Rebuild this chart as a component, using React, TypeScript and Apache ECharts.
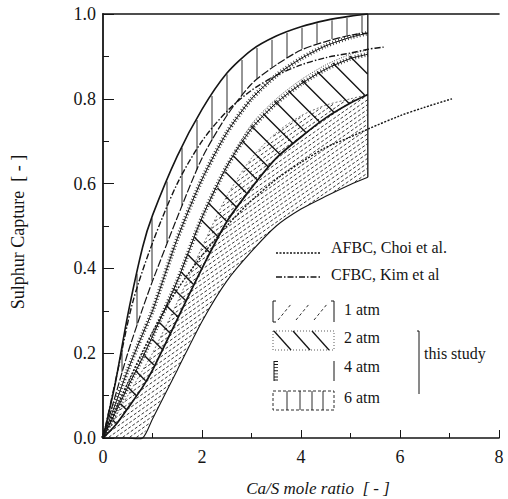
import React, { useEffect, useRef } from "react";
import * as echarts from "echarts";

// ---- data ----
const bandX = [0, 0.25, 0.5, 0.8, 1, 1.5, 2, 2.5, 3, 3.5, 4, 4.5, 5, 5.35];
const atm6Upper = [0, 0.13, 0.29, 0.45, 0.525, 0.665, 0.775, 0.86, 0.915, 0.948, 0.97, 0.985, 0.995, 1.0];
const atm6Lower = [0, 0.1, 0.2, 0.305, 0.37, 0.52, 0.66, 0.76, 0.835, 0.88, 0.915, 0.935, 0.95, 0.955];
const atm4Upper = [0, 0.08, 0.16, 0.245, 0.3, 0.47, 0.61, 0.72, 0.8, 0.855, 0.895, 0.925, 0.945, 0.955];
const atm4Lower = [0, 0.06, 0.12, 0.19, 0.24, 0.37, 0.52, 0.64, 0.73, 0.79, 0.835, 0.87, 0.895, 0.905];
const atm2Upper = [0, 0.06, 0.12, 0.19, 0.24, 0.37, 0.52, 0.64, 0.74, 0.8, 0.845, 0.88, 0.905, 0.915];
const atm2Lower = [0, 0.03, 0.07, 0.12, 0.16, 0.28, 0.4, 0.51, 0.59, 0.66, 0.71, 0.755, 0.79, 0.81];
const atm1Upper = [0, 0.05, 0.1, 0.16, 0.2, 0.32, 0.45, 0.57, 0.66, 0.72, 0.76, 0.785, 0.8, 0.81];
const atm1Lower = [0, 0, 0, 0, 0.045, 0.16, 0.275, 0.37, 0.44, 0.5, 0.54, 0.57, 0.598, 0.615];

const afbcX = [0, 0.5, 1, 1.5, 2, 2.5, 3, 3.5, 4, 4.5, 5, 5.36, 6, 6.5, 7.05];
const afbcY = [0, 0.13, 0.25, 0.35, 0.43, 0.5, 0.56, 0.61, 0.65, 0.685, 0.71, 0.729, 0.76, 0.78, 0.8];
const cfbcX = [0, 0.3, 0.6, 1, 1.5, 2, 2.5, 3, 3.5, 4, 4.5, 5, 5.36, 5.67];
const cfbcY = [0, 0.16, 0.32, 0.46, 0.6, 0.7, 0.77, 0.82, 0.855, 0.88, 0.897, 0.908, 0.917, 0.922];

const xTickStep = 2;
const yTickStep = 0.2;
const legendLabels = ["AFBC, Choi et al.", "CFBC, Kim et al", "1 atm", "2 atm", "4 atm", "6 atm"];
const FONT = "'Liberation Serif', 'DejaVu Serif', serif";
const INK = "#151515";
const SMOOTH = 0.25;

type P = number[];

function interpY(pts: P[], x: number): number {
  if (x <= pts[0][0]) return pts[0][1];
  for (let i = 1; i < pts.length; i++) {
    if (x <= pts[i][0]) {
      const t = (x - pts[i - 1][0]) / (pts[i][0] - pts[i - 1][0] || 1);
      return pts[i - 1][1] + t * (pts[i][1] - pts[i - 1][1]);
    }
  }
  return pts[pts.length - 1][1];
}

function hatchPath(up: P[], lo: P[], angleDeg: number, spacing: number, offset: number): string {
  const xMin = up[0][0];
  const xMax = up[up.length - 1][0];
  const yMin = Math.min(...up.map((p) => p[1]));
  const yMax = Math.max(...lo.map((p) => p[1]));
  const a = (angleDeg * Math.PI) / 180;
  const dx = Math.cos(a), dy = -Math.sin(a);
  const nx = -dy, ny = dx;
  const corners = [[xMin, yMin], [xMax, yMin], [xMin, yMax], [xMax, yMax]];
  const cs = corners.map((c) => c[0] * nx + c[1] * ny);
  const ts = corners.map((c) => c[0] * dx + c[1] * dy);
  const cmin = Math.min(...cs), cmax = Math.max(...cs);
  const tmin = Math.min(...ts), tmax = Math.max(...ts);
  let d = "";
  for (let c = cmin + offset; c <= cmax; c += spacing) {
    let run = false;
    let sx = 0, sy = 0, lx = 0, ly = 0;
    for (let t = tmin; t <= tmax + 1; t += 0.75) {
      const x = c * nx + t * dx;
      const y = c * ny + t * dy;
      const ins = x >= xMin && x <= xMax && y >= interpY(up, x) + 0.6 && y <= interpY(lo, x) - 0.6;
      if (ins) {
        if (!run) { run = true; sx = x; sy = y; }
        lx = x; ly = y;
      } else if (run) {
        run = false;
        if (Math.hypot(lx - sx, ly - sy) > 1.5) d += `M${sx.toFixed(1)} ${sy.toFixed(1)}L${lx.toFixed(1)} ${ly.toFixed(1)}`;
      }
    }
    if (run && Math.hypot(lx - sx, ly - sy) > 1.5) d += `M${sx.toFixed(1)} ${sy.toFixed(1)}L${lx.toFixed(1)} ${ly.toFixed(1)}`;
  }
  return d;
}

interface BandCfg {
  name: string;
  upper: number[];
  lower: number[];
  hatch?: { angle: number; spacing: number; width: number; dash?: number[]; offset?: number };
  upperStyle: any;
  lowerStyle: any;
  railroad?: boolean;
  z: number;
}

function bandSeries(cfg: BandCfg) {
  return {
    type: "custom",
    name: cfg.name,
    silent: true,
    z: cfg.z,
    data: [[0, 0]],
    renderItem: (_params: any, api: any) => {
      const up: P[] = bandX.map((x, i) => api.coord([x, cfg.upper[i]]));
      const lo: P[] = bandX.map((x, i) => api.coord([x, cfg.lower[i]]));
      const children: any[] = [];
      if (cfg.hatch) {
        const d = hatchPath(up, lo, cfg.hatch.angle, cfg.hatch.spacing, cfg.hatch.offset || 0);
        if (d) {
          children.push({
            type: "path",
            shape: { pathData: d },
            style: { fill: null, stroke: INK, lineWidth: cfg.hatch.width, lineDash: cfg.hatch.dash || null },
          });
        }
      }
      if (cfg.railroad) {
        for (const pts of [up, lo]) {
          children.push({
            type: "polyline",
            shape: { points: pts, smooth: SMOOTH },
            style: { fill: null, stroke: INK, lineWidth: 4.5, lineDash: [0.9, 2.2], opacity: 0.85 },
          });
        }
      }
      children.push({ type: "polyline", shape: { points: up, smooth: SMOOTH }, style: { fill: null, stroke: INK, ...cfg.upperStyle } });
      children.push({ type: "polyline", shape: { points: lo, smooth: SMOOTH }, style: { fill: null, stroke: INK, ...cfg.lowerStyle } });
      return { type: "group", children };
    },
  };
}

function edgeSeries() {
  const n = bandX.length - 1;
  return {
    type: "custom",
    silent: true,
    z: 10,
    data: [[0, 0]],
    renderItem: (_p: any, api: any) => {
      const a = api.coord([bandX[n], atm1Lower[n]]);
      const b = api.coord([bandX[n], atm6Upper[n]]);
      return {
        type: "line",
        shape: { x1: a[0], y1: a[1], x2: b[0], y2: b[1] },
        style: { stroke: INK, lineWidth: 1.3 },
      };
    },
  };
}

function legendGraphics(): any[] {
  const g: any[] = [];
  const ls = (x1: number, y1: number, x2: number, y2: number, style: any) =>
    g.push({ type: "line", shape: { x1, y1, x2, y2 }, style: { stroke: INK, lineWidth: 1, ...style }, silent: true });
  const txt = (x: number, y: number, text: string, extra: any = {}) =>
    g.push({
      type: "text",
      x,
      y,
      silent: true,
      style: { text, fill: INK, font: `16px ${FONT}`, textVerticalAlign: "middle", ...extra },
    });

  // AFBC
  ls(276, 253, 320, 253, { lineDash: [2, 1.5], lineWidth: 1.4 });
  txt(331, 247, legendLabels[0]);
  // CFBC
  ls(276, 277, 320, 277, { lineDash: [6, 2, 1.5, 2], lineWidth: 1.4 });
  txt(331, 274, legendLabels[1]);

  // 1 atm box
  ls(273, 301, 273, 322, { lineWidth: 1 });
  ls(273, 301, 276, 301, {});
  ls(273, 322, 276, 322, {});
  ls(334, 301, 334, 322, { lineWidth: 1 });
  ls(331, 301, 334, 301, {});
  for (const x0 of [278, 296, 314]) ls(x0, 320, x0 + 14, 303, { lineDash: [3, 2.5], lineWidth: 0.9 });
  txt(344, 309, legendLabels[2]);

  // 2 atm box
  g.push({ type: "rect", shape: { x: 273, y: 331, width: 61, height: 19 }, style: { fill: null, stroke: INK, lineWidth: 0.7, lineDash: [1, 2] }, silent: true });
  for (const x0 of [274, 293, 312]) ls(x0, 331, x0 + 17, 350, { lineWidth: 1.3 });
  txt(344, 337, legendLabels[3]);

  // 4 atm box
  ls(274, 361, 274, 381, { lineWidth: 1 });
  ls(276, 361, 276, 381, { lineWidth: 4, lineDash: [0.9, 2.2] });
  ls(334, 361, 334, 381, { lineWidth: 1 });
  txt(344, 366, legendLabels[4]);

  // 6 atm box
  g.push({ type: "rect", shape: { x: 273, y: 391, width: 61, height: 19 }, style: { fill: null, stroke: INK, lineWidth: 0.9, lineDash: [3, 2] }, silent: true });
  for (const x0 of [287, 300, 312, 323]) ls(x0, 391, x0, 410, { lineWidth: 0.9 });
  txt(344, 397, legendLabels[5]);

  // bracket & "this study"
  ls(419, 331, 419, 394, { lineWidth: 1 });
  ls(417, 331, 419, 331, {});
  txt(424, 353, "this study");

  // axis titles
  g.push({
    type: "text",
    x: 318,
    y: 488,
    silent: true,
    style: { text: "Ca/S mole ratio  [ - ]", fill: INK, font: `italic 17px ${FONT}`, textAlign: "center", textVerticalAlign: "middle" },
  });
  g.push({
    type: "text",
    x: 18,
    y: 232,
    rotation: Math.PI / 2,
    silent: true,
    style: { text: "Sulphur Capture  [ - ]", fill: INK, font: `18px ${FONT}`, textAlign: "center", textVerticalAlign: "middle" },
  });
  return g;
}

export default function App() {
  const ref = useRef<HTMLDivElement>(null);
  useEffect(() => {
    if (!ref.current) return;
    const chart = echarts.init(ref.current, null, { renderer: "svg" });
    const axisLabelStyle = { color: INK, fontFamily: "Liberation Serif", fontSize: 18 };
    const option: any = {
      animation: false,
      backgroundColor: "#fff",
      grid: { left: 103, top: 14, width: 396, height: 424, containLabel: false },
      xAxis: [
        {
          type: "value",
          min: 0,
          max: 8,
          interval: xTickStep,
          axisLine: { show: true, lineStyle: { color: INK, width: 1.6 } },
          axisTick: { show: true, inside: true, length: 8, lineStyle: { color: INK } },
          minorTick: { show: true, splitNumber: 2, length: 5, lineStyle: { color: INK } },
          splitLine: { show: false },
          axisLabel: { ...axisLabelStyle, margin: 10 },
        },
        {
          type: "value",
          position: "top",
          min: 0,
          max: 8,
          axisLine: { show: true, onZero: false, lineStyle: { color: INK, width: 1.6 } },
          axisTick: { show: false },
          axisLabel: { show: false },
          splitLine: { show: false },
        },
      ],
      yAxis: {
        type: "value",
        min: 0,
        max: 1,
        interval: yTickStep,
        axisLine: { show: true, lineStyle: { color: INK, width: 1.8 } },
        axisTick: { show: true, inside: true, length: 11, lineStyle: { color: INK } },
        minorTick: { show: true, splitNumber: 2, length: 6, lineStyle: { color: INK } },
        splitLine: { show: false },
        axisLabel: { ...axisLabelStyle, margin: 7, formatter: (v: number) => v.toFixed(1) },
      },
      series: [
        bandSeries({
          name: "1 atm",
          upper: atm1Upper,
          lower: atm1Lower,
          hatch: { angle: 35, spacing: 4, width: 0.85, dash: [3, 2] },
          upperStyle: { lineWidth: 0.6, lineDash: [2, 2] },
          lowerStyle: { lineWidth: 1.1 },
          z: 2,
        }),
        bandSeries({
          name: "2 atm",
          upper: atm2Upper,
          lower: atm2Lower,
          hatch: { angle: -45, spacing: 17, width: 1.4 },
          upperStyle: { lineWidth: 0.8, lineDash: [1, 1.5] },
          lowerStyle: { lineWidth: 1.8 },
          z: 3,
        }),
        bandSeries({
          name: "4 atm",
          upper: atm4Upper,
          lower: atm4Lower,
          railroad: true,
          upperStyle: { lineWidth: 1 },
          lowerStyle: { lineWidth: 1 },
          z: 4,
        }),
        bandSeries({
          name: "6 atm",
          upper: atm6Upper,
          lower: atm6Lower,
          hatch: { angle: 90, spacing: 15, width: 0.9, offset: 4 },
          upperStyle: { lineWidth: 1.6 },
          lowerStyle: { lineWidth: 1.2, lineDash: [8, 2] },
          z: 5,
        }),
        edgeSeries(),
        {
          type: "line",
          name: legendLabels[0],
          data: afbcX.map((x, i) => [x, afbcY[i]]),
          showSymbol: false,
          smooth: 0.3,
          silent: true,
          z: 6,
          lineStyle: { color: INK, width: 1.4, type: [2, 1.5] },
        },
        {
          type: "line",
          name: legendLabels[1],
          data: cfbcX.map((x, i) => [x, cfbcY[i]]),
          showSymbol: false,
          smooth: 0.3,
          silent: true,
          z: 6,
          lineStyle: { color: INK, width: 1.4, type: [6, 2, 1.5, 2] },
        },
      ],
      graphic: legendGraphics(),
    };
    chart.setOption(option);
    return () => chart.dispose();
  }, []);
  return <div ref={ref} style={{ position: "absolute", left: 0, top: 0, width: 508, height: 499 }} />;
}
